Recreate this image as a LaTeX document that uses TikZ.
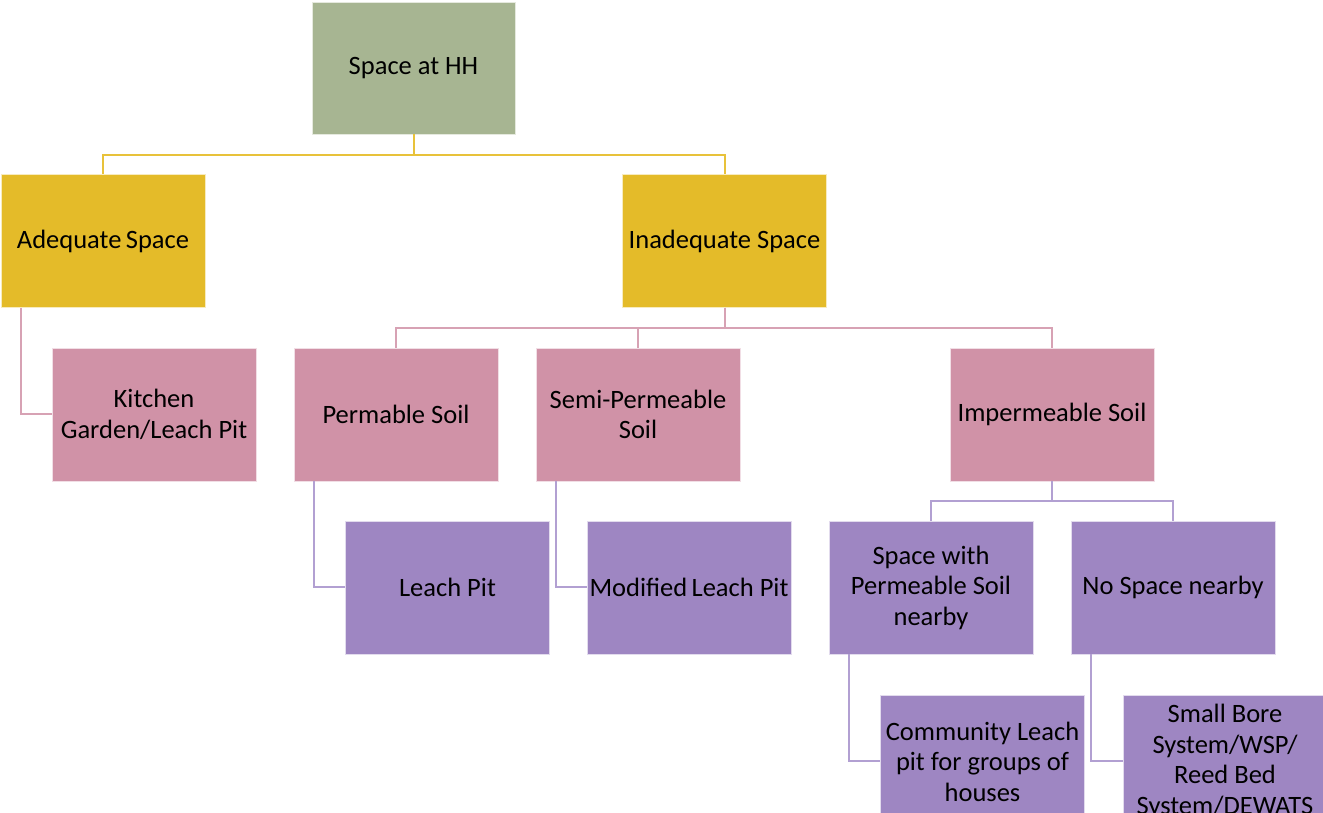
\documentclass[tikz,border=0pt]{standalone}
\usepackage{fontspec}
\setmainfont{Carlito}
\definecolor{cgreen}{HTML}{A7B592}
\definecolor{cyellow}{HTML}{E4BB29}
\definecolor{cpink}{HTML}{D092A7}
\definecolor{cpurple}{HTML}{9E86C2}
\definecolor{lyellow}{HTML}{E8C23A}
\definecolor{lpink}{HTML}{D7A2B4}
\definecolor{lpurple}{HTML}{B2A0D2}
\begin{document}
\begin{tikzpicture}[x=1pt,y=1pt,
  box/.style={minimum width=204pt,minimum height=133pt,inner sep=0pt,
    align=center,font=\fontsize{26.5}{30.5}\selectfont,draw=white!70!#1,line width=0.8pt,fill=#1},
  greenbox/.style={box=cgreen},
  yellowbox/.style={box=cyellow},
  pinkbox/.style={box=cpink},
  purplebox/.style={box=cpurple},
  ylink/.style={draw=lyellow,line width=2pt},
  plink/.style={draw=lpink,line width=2pt},
  vlink/.style={draw=lpurple,line width=2pt}]
\useasboundingbox (0,0) rectangle (1323,813);
\clip (0,0) rectangle (1323,813);
\fill[white] (0,0) rectangle (1323,813);

% level 0 and 1
\node[greenbox,minimum width=203pt,minimum height=132pt] (hh) at (413.5,745) {Space at HH};
\node[yellowbox] (adeq) at (103,572) {Adequate\,Space};
\node[yellowbox] (inad) at (724.5,572) {Inadequate Space};

% level 2
\node[pinkbox] (kitchen) at (154,398.5) {Kitchen\\Garden/Leach Pit};
\node[pinkbox] (perm) at (396,398.5) {Permable Soil};
\node[pinkbox] (semi) at (638,398.5) {Semi-Permeable\\Soil};
\node[pinkbox] (imperm) at (1052,398.5) {Impermeable Soil};

% level 3
\node[purplebox] (leach) at (447.5,225.5) {Leach Pit};
\node[purplebox] (modl) at (689,225.5) {Modified\,Leach Pit};
\node[purplebox] (swp) at (931,225.5) {Space with\\Permeable Soil\\nearby};
\node[purplebox] (nosp) at (1173,225.5) {No Space nearby};

% level 4
\node[purplebox] (comm) at (982.5,51.5) {Community Leach\\pit for groups of\\houses};
\node[purplebox] (sbs) at (1225,51.5) {Small Bore\\System/WSP/\\Reed Bed\\System/DEWATS};

% connectors from the root
\draw[ylink] (hh.south) -- ++(0,-21) -| (adeq.north);
\draw[ylink] (hh.south) -- ++(0,-21) -| (inad.north);

% side connector to the kitchen garden
\draw[plink] ([xshift=20pt]adeq.south west) |- (kitchen.west);

% connectors from inadequate space
\draw[plink] (inad.south) -- ++(0,-20) -| (perm.north);
\draw[plink] (inad.south) -- ++(0,-20) -| (semi.north);
\draw[plink] (inad.south) -- ++(0,-20) -| (imperm.north);

% side connectors to the pits
\draw[vlink] ([xshift=20pt]perm.south west) |- (leach.west);
\draw[vlink] ([xshift=20pt]semi.south west) |- (modl.west);

% connectors from impermeable soil
\draw[vlink] (imperm.south) -- ++(0,-20) -| (swp.north);
\draw[vlink] (imperm.south) -- ++(0,-20) -| (nosp.north);

% side connectors to the community options
\draw[vlink] ([xshift=20pt]swp.south west) |- (comm.west);
\draw[vlink] ([xshift=20pt]nosp.south west) |- (sbs.west);
\end{tikzpicture}
\end{document}
